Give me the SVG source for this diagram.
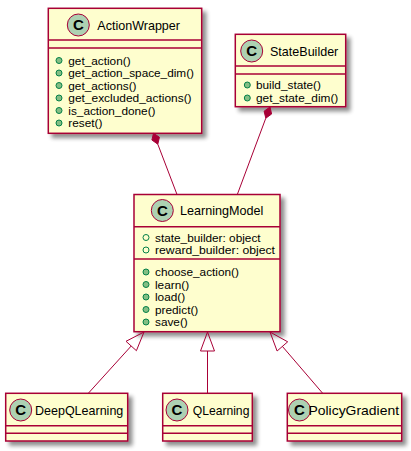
<svg xmlns="http://www.w3.org/2000/svg" width="411" height="451" viewBox="0 0 411 451">
<defs>
<filter id="sh" x="-10%" y="-10%" width="130%" height="130%">
<feGaussianBlur in="SourceAlpha" stdDeviation="2"/>
<feOffset dx="4" dy="4"/>
<feComponentTransfer><feFuncA type="linear" slope="0.45"/></feComponentTransfer>
<feMerge><feMergeNode/><feMergeNode in="SourceGraphic"/></feMerge>
</filter>
</defs>
<style>
.box{fill:#FEFECE;stroke:#A80036;stroke-width:1.5}
.sep{stroke:#A80036;stroke-width:1.5}
.ci{fill:#ADD1B2;stroke:#A80036;stroke-width:1}
.cl{font-family:"Liberation Sans",Arial,sans-serif;font-size:15px;font-weight:bold;fill:#000;text-anchor:middle}
.nm{font-family:"Liberation Sans",Arial,sans-serif;font-size:12.4px;fill:#000}
.mb{font-family:"Liberation Sans",Arial,sans-serif;font-size:11.8px;fill:#000}
.m{fill:#84BE84;stroke:#038048;stroke-width:1}
.f{fill:none;stroke:#038048;stroke-width:1}
.ln{stroke:#A80036;stroke-width:1;fill:none}
.dm{fill:#A80036;stroke:#A80036;stroke-width:1}
.tr{fill:none;stroke:#A80036;stroke-width:1}
</style>
<g id="ActionWrapper">
<rect class="box" x="48.3" y="8.3" width="153.4" height="125" filter="url(#sh)"/>
<line class="sep" x1="48.3" y1="40" x2="201.7" y2="40"/>
<line class="sep" x1="48.3" y1="48" x2="201.7" y2="48"/>
<circle class="ci" cx="78.3" cy="25" r="11"/>
<text class="cl" x="78.3" y="30.3">C</text>
<text class="nm" x="97.3" y="29.5" textLength="82.7" lengthAdjust="spacingAndGlyphs">ActionWrapper</text>
<circle class="m" cx="59" cy="60.5" r="3"/><text class="mb" x="68.3" y="64.5">get_action()</text>
<circle class="m" cx="59" cy="73" r="3"/><text class="mb" x="68.3" y="77" textLength="125.7" lengthAdjust="spacingAndGlyphs">get_action_space_dim()</text>
<circle class="m" cx="59" cy="85.5" r="3"/><text class="mb" x="68.3" y="89.5">get_actions()</text>
<circle class="m" cx="59" cy="98" r="3"/><text class="mb" x="68.3" y="102" textLength="123.3" lengthAdjust="spacingAndGlyphs">get_excluded_actions()</text>
<circle class="m" cx="59" cy="110.5" r="3"/><text class="mb" x="68.3" y="114.5">is_action_done()</text>
<circle class="m" cx="59" cy="123" r="3"/><text class="mb" x="68.3" y="127">reset()</text>
</g>
<g id="StateBuilder">
<rect class="box" x="235.3" y="34.3" width="110.4" height="72.4" filter="url(#sh)"/>
<line class="sep" x1="235.3" y1="66" x2="345.7" y2="66"/>
<line class="sep" x1="235.3" y1="74" x2="345.7" y2="74"/>
<circle class="ci" cx="251.7" cy="51" r="11"/>
<text class="cl" x="251.7" y="56.3">C</text>
<text class="nm" x="270" y="55.5" textLength="68.3" lengthAdjust="spacingAndGlyphs">StateBuilder</text>
<circle class="m" cx="247.3" cy="85" r="3"/><text class="mb" x="256" y="89">build_state()</text>
<circle class="m" cx="247.3" cy="98" r="3"/><text class="mb" x="256" y="102" textLength="82.3" lengthAdjust="spacingAndGlyphs">get_state_dim()</text>
</g>
<g id="LearningModel">
<rect class="box" x="134" y="194.5" width="146" height="137.2" filter="url(#sh)"/>
<line class="sep" x1="134" y1="226.7" x2="280" y2="226.7"/>
<line class="sep" x1="134" y1="259" x2="280" y2="259"/>
<circle class="ci" cx="162.3" cy="210.5" r="11"/>
<text class="cl" x="162.3" y="215.8">C</text>
<text class="nm" x="180" y="215" textLength="83.3" lengthAdjust="spacingAndGlyphs">LearningModel</text>
<circle class="f" cx="146" cy="237.5" r="3"/><text class="mb" x="155" y="241.5">state_builder: object</text>
<circle class="f" cx="146" cy="250" r="3"/><text class="mb" x="155" y="254" textLength="120" lengthAdjust="spacingAndGlyphs">reward_builder: object</text>
<circle class="m" cx="146" cy="272" r="3"/><text class="mb" x="155" y="276">choose_action()</text>
<circle class="m" cx="146" cy="284.5" r="3"/><text class="mb" x="155" y="288.5">learn()</text>
<circle class="m" cx="146" cy="297" r="3"/><text class="mb" x="155" y="301">load()</text>
<circle class="m" cx="146" cy="309.5" r="3"/><text class="mb" x="155" y="313.5">predict()</text>
<circle class="m" cx="146" cy="322" r="3"/><text class="mb" x="155" y="326">save()</text>
</g>
<g id="DeepQLearning">
<rect class="box" x="5.7" y="393.3" width="122" height="47.7" filter="url(#sh)"/>
<line class="sep" x1="5.7" y1="425.7" x2="127.7" y2="425.7"/>
<line class="sep" x1="5.7" y1="433.3" x2="127.7" y2="433.3"/>
<circle class="ci" cx="20.7" cy="410" r="11"/>
<text class="cl" x="20.7" y="415.3">C</text>
<text class="nm" x="35" y="414.5" textLength="88.3" lengthAdjust="spacingAndGlyphs">DeepQLearning</text>
</g>
<g id="QLearning">
<rect class="box" x="162.7" y="393.3" width="89.6" height="47.7" filter="url(#sh)"/>
<line class="sep" x1="162.7" y1="425.7" x2="252.3" y2="425.7"/>
<line class="sep" x1="162.7" y1="433.3" x2="252.3" y2="433.3"/>
<circle class="ci" cx="177" cy="410" r="11"/>
<text class="cl" x="177" y="415.3">C</text>
<text class="nm" x="192.7" y="414.5" textLength="56.7" lengthAdjust="spacingAndGlyphs">QLearning</text>
</g>
<g id="PolicyGradient">
<rect class="box" x="287.3" y="393.3" width="114.4" height="47.7" filter="url(#sh)"/>
<line class="sep" x1="287.3" y1="425.7" x2="401.7" y2="425.7"/>
<line class="sep" x1="287.3" y1="433.3" x2="401.7" y2="433.3"/>
<circle class="ci" cx="299.5" cy="410" r="11"/>
<text class="cl" x="299.5" y="415.3">C</text>
<text class="nm" x="308.5" y="414.5" textLength="90.5" lengthAdjust="spacingAndGlyphs">PolicyGradient</text>
</g>
<g id="connectors">
<polygon class="dm" points="153.5,133.3 159.4,137.2 157.8,144.2 151.9,140"/>
<line class="ln" x1="157.8" y1="144.2" x2="177" y2="194.5"/>
<polygon class="dm" points="270,107 271.6,114 265.8,118.2 264.1,111.2"/>
<line class="ln" x1="265.8" y1="118.2" x2="237.3" y2="194.5"/>
<polygon class="tr" points="144,332 136.4,350.7 126,341.3"/>
<line class="ln" x1="131.2" y1="346" x2="88.3" y2="393.3"/>
<polygon class="tr" points="207.5,332 214.5,351 200.5,351"/>
<line class="ln" x1="207.5" y1="351" x2="207.5" y2="393.3"/>
<polygon class="tr" points="270,332 287.7,341.8 277.1,351"/>
<line class="ln" x1="282.4" y1="346.4" x2="322.7" y2="393.3"/>
</g>
</svg>
